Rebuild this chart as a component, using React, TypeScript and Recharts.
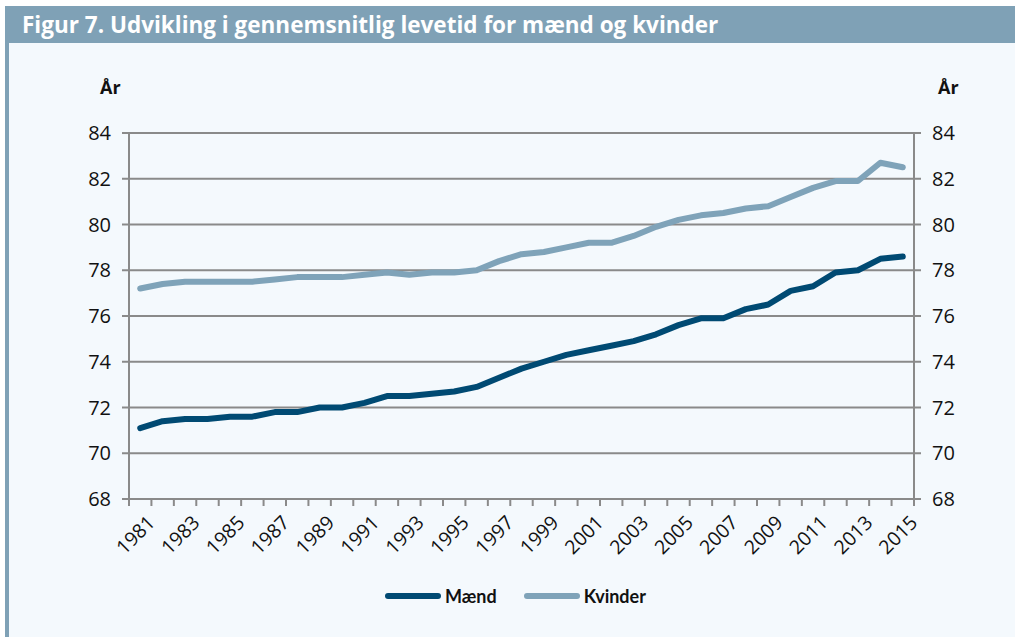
import React from 'react';
import { LineChart, Line, XAxis, YAxis, CartesianGrid } from 'recharts';

const years = [
  1981, 1982, 1983, 1984, 1985, 1986, 1987, 1988, 1989, 1990, 1991, 1992,
  1993, 1994, 1995, 1996, 1997, 1998, 1999, 2000, 2001, 2002, 2003, 2004,
  2005, 2006, 2007, 2008, 2009, 2010, 2011, 2012, 2013, 2014, 2015,
];
const maend = [
  71.1, 71.4, 71.5, 71.5, 71.6, 71.6, 71.8, 71.8, 72.0, 72.0, 72.2, 72.5,
  72.5, 72.6, 72.7, 72.9, 73.3, 73.7, 74.0, 74.3, 74.5, 74.7, 74.9, 75.2,
  75.6, 75.9, 75.9, 76.3, 76.5, 77.1, 77.3, 77.9, 78.0, 78.5, 78.6,
];
const kvinder = [
  77.2, 77.4, 77.5, 77.5, 77.5, 77.5, 77.6, 77.7, 77.7, 77.7, 77.8, 77.9,
  77.8, 77.9, 77.9, 78.0, 78.4, 78.7, 78.8, 79.0, 79.2, 79.2, 79.5, 79.9,
  80.2, 80.4, 80.5, 80.7, 80.8, 81.2, 81.6, 81.9, 81.9, 82.7, 82.5,
];
const yTicks = [68, 70, 72, 74, 76, 78, 80, 82, 84];

const data = years.map((y, i) => ({ year: String(y), maend: maend[i], kvinder: kvinder[i] }));

const DARK = '#004a73';
const LIGHT = '#7fa3b9';
const FRAME = '#7fa1b6';
const GRID = '#8a8a8a';
const FONT = '"Open Sans", "Noto Sans", sans-serif';

// plot area: x 129..914, y 133..499
const PLOT_W = 785;
const HALF = PLOT_W / years.length / 2;

const YearTick = (props: any) => {
  const { x, y, index, payload } = props;
  const last = index === years.length - 1;
  return (
    <g>
      <line x1={x - HALF} x2={x - HALF} y1={y - 8} y2={y - 1} stroke={GRID} strokeWidth={2} />
      {last && <line x1={x + HALF} x2={x + HALF} y1={y - 8} y2={y - 1} stroke={GRID} strokeWidth={2} />}
      {index % 2 === 0 && (
        <text
          x={x + 4}
          y={y + 5}
          transform={`rotate(-45, ${x + 4}, ${y + 5})`}
          textAnchor="end"
          dominantBaseline="hanging"
          fontSize={19.5}
          fill="#111"
          fontFamily={FONT}
        >
          {payload.value}
        </text>
      )}
    </g>
  );
};

const axisProps = {
  domain: [68, 84] as [number, number],
  ticks: yTicks,
  width: 60,
  axisLine: { stroke: GRID, strokeWidth: 2 },
  tickLine: { stroke: GRID, strokeWidth: 2 },
  tickSize: 7,
  tickMargin: 11,
  tick: { fill: '#111', fontSize: 20, fontFamily: FONT },
};

export default function App() {
  return (
    <div style={{ position: 'absolute', left: 0, top: 0, width: 1015, height: 637, background: '#fff', overflow: 'hidden' }}>
      <div style={{ position: 'absolute', left: 5, top: 6, right: 0, bottom: 0, background: '#f4f9fd' }} />
      <div style={{ position: 'absolute', left: 5, top: 6, width: 4, bottom: 0, background: FRAME }} />
      <div
        style={{
          position: 'absolute', left: 5, top: 6, right: 0, height: 37, background: FRAME,
          color: '#fff', fontFamily: FONT, fontWeight: 700, fontSize: 22.5,
          lineHeight: '37px', paddingLeft: 17, boxSizing: 'border-box', whiteSpace: 'nowrap',
        }}
      >
        Figur 7. Udvikling i gennemsnitlig levetid for mænd og kvinder
      </div>
      <div style={{ position: 'absolute', left: 100, top: 75, fontFamily: FONT, fontWeight: 700, fontSize: 18, color: '#111' }}>År</div>
      <div style={{ position: 'absolute', left: 938, top: 75, fontFamily: FONT, fontWeight: 700, fontSize: 18, color: '#111' }}>År</div>

      <div style={{ position: 'absolute', left: 0, top: 0 }}>
        <LineChart width={1015} height={637} data={data} margin={{ top: 133, right: 41, bottom: 58, left: 69 }}>
          <CartesianGrid vertical={false} stroke={GRID} strokeWidth={2} yAxisId="left" />
          <XAxis
            dataKey="year"
            interval={0}
            tickLine={false}
            axisLine={{ stroke: GRID, strokeWidth: 2 }}
            padding={{ left: HALF, right: HALF }}
            height={80}
            tick={<YearTick />}
          />
          <YAxis yAxisId="left" {...axisProps} />
          <YAxis yAxisId="right" orientation="right" {...axisProps} />
          <Line yAxisId="right" dataKey="kvinder" stroke={LIGHT} strokeWidth={6} dot={false} strokeLinejoin="round" strokeLinecap="round" isAnimationActive={false} />
          <Line yAxisId="left" dataKey="maend" stroke={DARK} strokeWidth={6} dot={false} strokeLinejoin="round" strokeLinecap="round" isAnimationActive={false} />
        </LineChart>
      </div>

      <div style={{ position: 'absolute', left: 385, top: 585, display: 'flex', alignItems: 'center', fontFamily: 'Lato, sans-serif', fontWeight: 700, fontSize: 18, color: '#111' }}>
        <span style={{ display: 'inline-block', width: 56, height: 6, borderRadius: 3, background: DARK, marginRight: 4 }} />
        <span style={{ marginRight: 27 }}>Mænd</span>
        <span style={{ display: 'inline-block', width: 56, height: 6, borderRadius: 3, background: LIGHT, marginRight: 4 }} />
        <span>Kvinder</span>
      </div>
    </div>
  );
}
